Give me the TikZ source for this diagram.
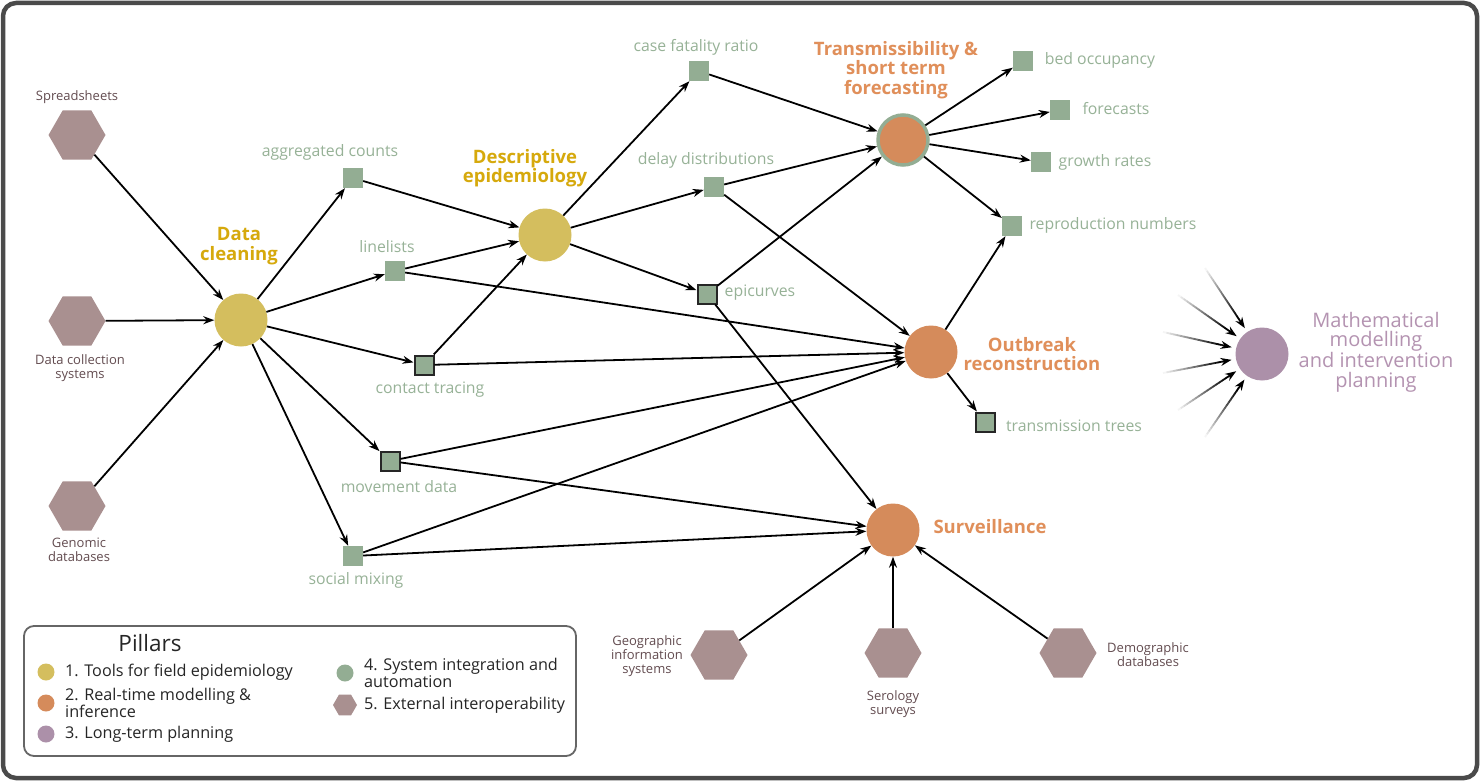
\documentclass[tikz,border=0pt]{standalone}
\usepackage{fontspec}
\setmainfont{Open Sans}
\newfontfamily\hexfont{Open Sans}
\usetikzlibrary{shapes.geometric,arrows.meta,calc}
\definecolor{yel}{HTML}{D4BE5E}
\definecolor{yeltxt}{HTML}{D6A90C}
\definecolor{ora}{HTML}{D58B5B}
\definecolor{oratxt}{HTML}{E08F5A}
\definecolor{pur}{HTML}{AC90A9}
\definecolor{purtxt}{HTML}{B493B1}
\definecolor{grn}{HTML}{93AD93}
\definecolor{grntxt}{HTML}{97B297}
\definecolor{hexc}{HTML}{A99090}
\definecolor{hextxt}{HTML}{634C50}
\definecolor{framec}{HTML}{4A4A4A}
\tikzset{
  pillar/.style={circle, minimum size=53, inner sep=0},
  yelc/.style={pillar, fill=yel},
  orac/.style={pillar, fill=ora},
  purc/.style={pillar, fill=pur},
  sq/.style={rectangle, fill=grn, minimum size=20, inner sep=0},
  sqb/.style={sq, draw=black!85, line width=2, minimum size=19},
  hexn/.style={regular polygon, regular polygon sides=6, fill=hexc, minimum size=57, inner sep=0},
  glab/.style={text=grntxt, font=\fontsize{15.8}{17}\selectfont, inner sep=0},
  big/.style={font=\bfseries\fontsize{18.5}{19.5}\selectfont, align=center, inner sep=0},
  hlab/.style={text=hextxt, font=\hexfont\fontsize{13}{14}\selectfont, align=center, inner sep=0},
  legt/.style={font=\fontsize{16.2}{13.5}\selectfont, anchor=west, align=left, inner sep=0, text=black!85},
  arr/.style={-{Stealth[length=11,width=8]}, line width=1.8, black},
}
\begin{document}
\begin{tikzpicture}[x=1pt,y=-1pt]
\useasboundingbox (0,0) rectangle (1480,781);
\fill[white] (0,0) rectangle (1480,781);
\draw[line width=4.5, framec, rounded corners=13] (3,3) rectangle (1477,778);

% pillar circles
\node[yelc] (clean) at (241,320) {};
\node[yelc] (desc) at (545,235) {};
\node[orac, draw=grn, line width=3.5, minimum size=50] (trans) at (903,140) {};
\node[orac] (outb) at (931,352) {};
\node[orac] (surv) at (893,530) {};
\node[purc] (math) at (1262,354) {};

\node[big, text=yeltxt] (t-clean) at (239,246) {Data\\cleaning};
\node[big, text=yeltxt] (t-desc) at (525,168) {Descriptive\\epidemiology};
\node[big, text=oratxt] (t-trans) at (896,70) {Transmissibility \&\\short term\\forecasting};
\node[big, text=oratxt] (t-outb) at (1032,354) {Outbreak\\reconstruction};
\node[big, text=oratxt] (t-surv) at (990,527) {Surveillance};
\node[big, text=purtxt, font=\fontsize{20}{19.5}\selectfont] (t-math) at (1376,352) {Mathematical\\modelling\\and intervention\\planning};

% data products
\node[sq] (agg) at (353,178) {};
\node[sq] (line) at (395,271) {};
\node[sqb] (ct) at (424,365) {};
\node[sqb] (mov) at (390,461) {};
\node[sq] (soc) at (353,556) {};
\node[sq] (cfr) at (699,71) {};
\node[sq] (delay) at (714,187) {};
\node[sqb] (epi) at (707,294) {};
\node[sq] (bed) at (1023,61) {};
\node[sq] (fore) at (1060,110) {};
\node[sq] (grow) at (1041,162) {};
\node[sq] (repro) at (1012,226) {};
\node[sqb] (tt) at (985,422) {};

\node[glab] (l-agg) at (330,152) {aggregated counts};
\node[glab] (l-line) at (387,247) {linelists};
\node[glab] (l-ct) at (430,390) {contact tracing};
\node[glab] (l-mov) at (399,487) {movement data};
\node[glab] (l-soc) at (356,580) {social mixing};
\node[glab] (l-cfr) at (696,47) {case fatality ratio};
\node[glab] (l-delay) at (706,160) {delay distributions};
\node[glab] (l-epi) at (760,293) {epicurves};
\node[glab] (l-bed) at (1100,60) {bed occupancy};
\node[glab] (l-fore) at (1116,109) {forecasts};
\node[glab] (l-grow) at (1105,162) {growth rates};
\node[glab] (l-repro) at (1113,225) {reproduction numbers};
\node[glab] (l-tt) at (1074,426) {transmission trees};

% external sources
\node[hexn] (ss) at (77,135) {};
\node[hexn] (dcs) at (77,321) {};
\node[hexn] (gen) at (77,506) {};
\node[hexn] (gis) at (719,655) {};
\node[hexn] (ser) at (893,653) {};
\node[hexn] (dem) at (1068,653) {};

\node[hlab] (l-ss) at (77,97) {Spreadsheets};
\node[hlab] (l-dcs) at (80,368) {Data collection\\systems};
\node[hlab] (l-gen) at (79,550) {Genomic\\databases};
\node[hlab] (l-gis) at (647,656) {Geographic\\information\\systems};
\node[hlab] (l-ser) at (893,704) {Serology\\surveys};
\node[hlab] (l-dem) at (1148,655) {Demographic\\databases};

% connectors
\draw[arr] (ss) -- (clean);
\draw[arr] (dcs) -- (clean);
\draw[arr] (gen) -- (clean);
\draw[arr] (clean) -- (agg);
\draw[arr] (clean) -- (line);
\draw[arr] (clean) -- (ct);
\draw[arr] (clean) -- (mov);
\draw[arr] (clean) -- (soc);
\draw[arr] (agg) -- (desc);
\draw[arr] (line) -- (desc);
\draw[arr] (ct) -- (desc);
\draw[arr] (line) -- (outb);
\draw[arr] (ct) -- (outb);
\draw[arr] (mov) -- (outb);
\draw[arr] (soc) -- (outb);
\draw[arr] (mov) -- (surv);
\draw[arr] (soc) -- (surv);
\draw[arr] (desc) -- (cfr);
\draw[arr] (desc) -- (delay);
\draw[arr] (desc) -- (epi);
\draw[arr] (cfr) -- (trans);
\draw[arr] (delay) -- (trans);
\draw[arr] (epi) -- (trans);
\draw[arr] (delay) -- (outb);
\draw[arr] (epi) -- (surv);
\draw[arr] (trans) -- (bed);
\draw[arr] (trans) -- (fore);
\draw[arr] (trans) -- (grow);
\draw[arr] (trans) -- (repro);
\draw[arr] (outb) -- (repro);
\draw[arr] (outb) -- (tt);
\draw[arr] (gis) -- (surv);
\draw[arr] (ser) -- (surv);
\draw[arr] (dem) -- (surv);

% fading inputs to long-term planning
\coordinate (f1) at (1205,268);
\coordinate (f2) at (1178,295);
\coordinate (f3) at (1163,332);
\coordinate (f4) at (1163,373);
\coordinate (f5) at (1178,410);
\coordinate (f6) at (1205,437);
\foreach \k in {1,...,6}{
  \coordinate (e\k) at ($(math)!31pt!(f\k)$);
  \foreach \i in {0,...,16}{
    \pgfmathsetmacro\ta{\i*0.05}
    \pgfmathsetmacro\tb{(\i+1)*0.05+0.003}
    \pgfmathtruncatemacro\sh{min(100,4+\i*6)}
    \draw[line width=1.8, black!\sh!white] ($(f\k)!\ta!(e\k)$) -- ($(f\k)!\tb!(e\k)$);
  }
  \draw[arr] ($(f\k)!0.85!(e\k)$) -- (e\k);
}

% legend
\draw[rounded corners=10, line width=1.8, black!60] (24,626) rectangle (576,756);
\node[font=\fontsize{22.5}{22}\selectfont, inner sep=0, text=black!85] (leg) at (150,643) {Pillars};
\node[circle, fill=yel, minimum size=17, inner sep=0] (k1) at (46,672) {};
\node[circle, fill=ora, minimum size=17, inner sep=0] (k2) at (46,703) {};
\node[circle, fill=pur, minimum size=17, inner sep=0] (k3) at (46,734) {};
\node[circle, fill=grn, minimum size=17, inner sep=0] (k4) at (345,673) {};
\node[hexn, minimum size=24] (k5) at (345,705) {};
\node[legt] (kt1) at (65,672) {1. Tools for field epidemiology};
\node[legt] (kt2) at (65,703) {2. Real-time modelling \&\\inference};
\node[legt] (kt3) at (65,734) {3. Long-term planning};
\node[legt] (kt4) at (364,673) {4. System integration and\\automation};
\node[legt] (kt5) at (364,705) {5. External interoperability};
\end{tikzpicture}
\end{document}
